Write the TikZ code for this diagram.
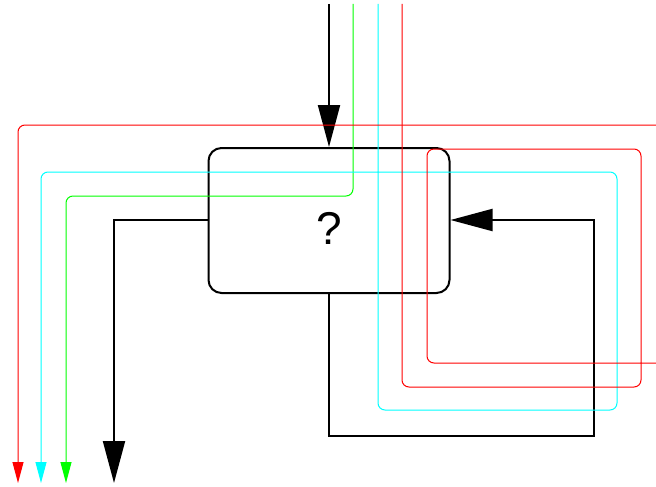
\documentclass[tikz,border=0pt]{standalone}
\usepackage{fontspec}
\setmainfont{Liberation Sans}
\usetikzlibrary{arrows.meta}
\definecolor{pcyan}{RGB}{0,255,255}
\definecolor{pred}{RGB}{255,0,0}
\definecolor{pgreen}{RGB}{0,255,0}
\begin{document}
\begin{tikzpicture}[x=1pt,y=-1pt,
  blk/.style={line width=2pt,draw=black},
  bigarrow/.style={-{Triangle[length=42pt,width=22pt]}},
  col/.style={line width=1pt,rounded corners=7pt},
  smallarrow/.style={-{Triangle[length=21pt,width=11pt]}},
  box/.style={draw=black,line width=2pt,rounded corners=13pt,minimum width=241pt,minimum height=145pt,inner sep=0pt}]
\useasboundingbox (0,0) rectangle (656,487);
\node[box,font=\fontsize{46}{48}\selectfont,text height=47pt,text depth=0pt] (b) at (329,220.5) {?};
% black free ends
\coordinate (ktop) at (329,4);
\coordinate (kbl) at (329,436);
\coordinate (kbr) at (594,436);
\coordinate (kr) at (594,220);
\coordinate (kl) at (114,220);
\coordinate (kend) at (114,483);
\draw[blk,bigarrow] (ktop) -- (b.north);
\draw[blk,bigarrow] (b.south) -- (kbl) -- (kbr) -- (kr) -- (b.east |- kr);
\draw[blk,bigarrow] (b.west |- kl) -- (kl) -- (kend);
% green
\coordinate (g0) at (353,4);
\coordinate (g1) at (353,196);
\coordinate (g2) at (66,196);
\coordinate (g3) at (66,483);
\draw[col,pgreen,smallarrow] (g0) -- (g1) -- (g2) -- (g3);
% cyan
\coordinate (c0) at (378,4);
\coordinate (c1) at (378,410);
\coordinate (c2) at (617,410);
\coordinate (c3) at (617,172);
\coordinate (c4) at (41,172);
\coordinate (c5) at (41,483);
\draw[col,pcyan,smallarrow] (c0) -- (c1) -- (c2) -- (c3) -- (c4) -- (c5);
% red
\coordinate (r0) at (402,4);
\coordinate (r1) at (402,387);
\coordinate (r2) at (641,387);
\coordinate (r3) at (641,149);
\coordinate (r4) at (427,149);
\coordinate (r5) at (427,363);
\coordinate (r6) at (657,363);
\draw[col,pred] (r0) -- (r1) -- (r2) -- (r3) -- (r4) -- (r5) -- (r6);
\coordinate (s0) at (657,125);
\coordinate (s1) at (18,125);
\coordinate (s2) at (18,483);
\draw[col,pred,smallarrow] (s0) -- (s1) -- (s2);
\end{tikzpicture}
\end{document}
